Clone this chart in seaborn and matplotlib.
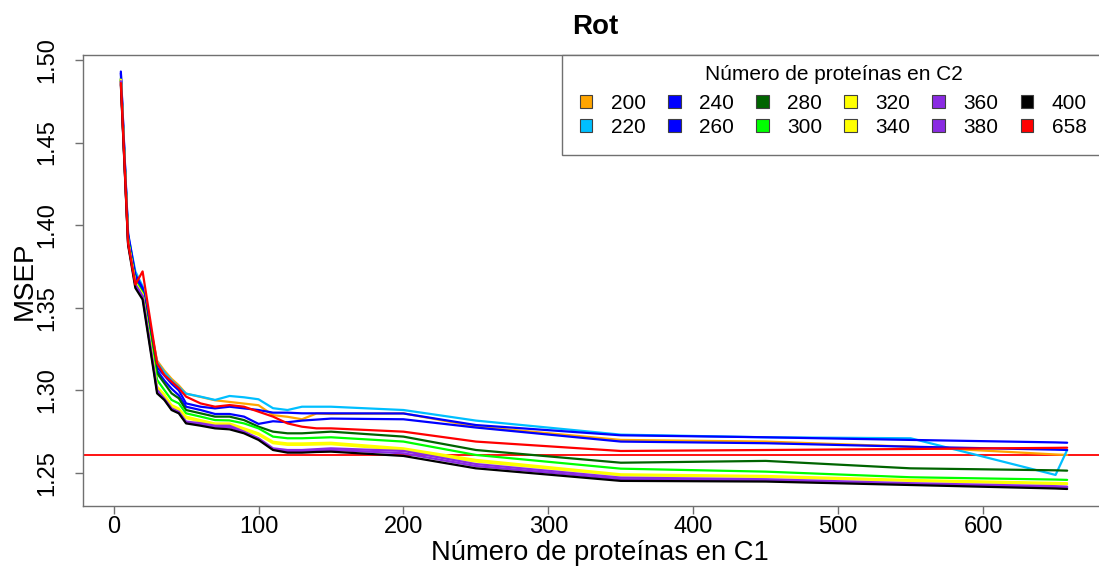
import matplotlib
matplotlib.use("Agg")
import matplotlib.pyplot as plt
from matplotlib.patches import Patch
import numpy as np
import pandas as pd
import seaborn as sns

# Number of proteins in C1 at which MSEP was evaluated
c1_sizes = [5, 10, 15, 20, 30, 35, 40, 45, 50, 60, 70, 80, 90, 100,
            110, 120, 130, 140, 150, 200, 250, 350, 450, 550, 650, 658]

# Number of proteins in C2 (one curve each)
c2_sizes = ["200", "220", "240", "260", "280", "300",
            "320", "340", "360", "380", "400", "658"]

msep_200 = [1.489, 1.392, 1.369, 1.362, 1.3180, 1.3120, 1.3070, 1.3030, 1.2980,
            1.2960, 1.2940, 1.2930, 1.2920, 1.2910, 1.2850, 1.2840, 1.2825, 1.2860,
            1.2857, 1.2861, 1.2781, 1.2700, 1.2690, 1.2659, 1.2612, 1.2609]
msep_220 = [1.489, 1.394, 1.372, 1.363, 1.3170, 1.3110, 1.3060, 1.3020, 1.2980,
            1.2962, 1.2942, 1.2966, 1.2958, 1.2946, 1.2892, 1.2881, 1.2901, 1.2901,
            1.2901, 1.2881, 1.2817, 1.2732, 1.2716, 1.2710, 1.2488, 1.2639]
msep_240 = [1.493, 1.395, 1.370, 1.362, 1.3140, 1.3090, 1.3040, 1.3000, 1.2921,
            1.2901, 1.2891, 1.2901, 1.2891, 1.2881, 1.2865, 1.2865, 1.2861, 1.2861,
            1.2861, 1.2860, 1.2790, 1.2728, 1.2716, 1.2700, 1.2685, 1.2683]
msep_260 = [1.492, 1.393, 1.369, 1.361, 1.3120, 1.3060, 1.3010, 1.2970, 1.2901,
            1.2881, 1.2857, 1.2857, 1.2841, 1.2797, 1.2813, 1.2807, 1.2817, 1.2823,
            1.2829, 1.2825, 1.2775, 1.2690, 1.2680, 1.2659, 1.2641, 1.2639]
msep_280 = [1.488, 1.391, 1.366, 1.359, 1.3104, 1.3043, 1.2982, 1.2952, 1.2881,
            1.2861, 1.2841, 1.2841, 1.2820, 1.2780, 1.2750, 1.2740, 1.2740, 1.2745,
            1.2750, 1.2720, 1.2639, 1.2562, 1.2573, 1.2528, 1.2516, 1.2514]
msep_300 = [1.488, 1.391, 1.366, 1.359, 1.3063, 1.3002, 1.2942, 1.2921, 1.2861,
            1.2841, 1.2820, 1.2818, 1.2800, 1.2770, 1.2720, 1.2710, 1.2710, 1.2713,
            1.2716, 1.2690, 1.2609, 1.2526, 1.2508, 1.2474, 1.2460, 1.2458]
msep_320 = [1.488, 1.390, 1.365, 1.358, 1.3023, 1.2975, 1.2911, 1.2890, 1.2841,
            1.2820, 1.2800, 1.2800, 1.2770, 1.2740, 1.2689, 1.2679, 1.2679, 1.2681,
            1.2683, 1.2649, 1.2579, 1.2492, 1.2482, 1.2458, 1.2440, 1.2438]
msep_340 = [1.488, 1.390, 1.365, 1.358, 1.3015, 1.2965, 1.2900, 1.2880, 1.2832,
            1.2811, 1.2791, 1.2791, 1.2761, 1.2731, 1.2680, 1.2670, 1.2670, 1.2672,
            1.2674, 1.2639, 1.2569, 1.2486, 1.2476, 1.2452, 1.2433, 1.2432]
msep_360 = [1.487, 1.389, 1.364, 1.357, 1.3003, 1.2950, 1.2891, 1.2870, 1.2811,
            1.2801, 1.2786, 1.2786, 1.2750, 1.2710, 1.2649, 1.2639, 1.2639, 1.2644,
            1.2649, 1.2633, 1.2554, 1.2472, 1.2462, 1.2438, 1.2420, 1.2417]
msep_380 = [1.487, 1.389, 1.364, 1.357, 1.2995, 1.2945, 1.2885, 1.2865, 1.2805,
            1.2795, 1.2780, 1.2778, 1.2745, 1.2705, 1.2642, 1.2630, 1.2630, 1.2635,
            1.2640, 1.2619, 1.2542, 1.2462, 1.2455, 1.2432, 1.2414, 1.2412]
msep_400 = [1.485, 1.388, 1.362, 1.355, 1.2982, 1.2942, 1.2881, 1.2861, 1.2800,
            1.2786, 1.2770, 1.2764, 1.2740, 1.2700, 1.2639, 1.2623, 1.2623, 1.2627,
            1.2629, 1.2603, 1.2528, 1.2452, 1.2448, 1.2427, 1.2406, 1.2403]
msep_658 = [1.486, 1.389, 1.364, 1.372, 1.3164, 1.3093, 1.3053, 1.3013, 1.2962,
            1.2921, 1.2901, 1.2911, 1.2901, 1.2871, 1.2841, 1.2800, 1.2780, 1.2770,
            1.2770, 1.2750, 1.2690, 1.2633, 1.2639, 1.2645, 1.2652, 1.2653]

reference_msep = 1.2607

x_ticks = [0, 100, 200, 300, 400, 500, 600]
y_ticks = [1.25, 1.30, 1.35, 1.40, 1.45, 1.50]

series = [msep_200, msep_220, msep_240, msep_260, msep_280, msep_300,
          msep_320, msep_340, msep_360, msep_380, msep_400, msep_658]

line_colors = ["#FFA500", "#00BFFF", "#0000FF", "#0000FF", "#006400", "#00FF00",
               "#FFFF00", "#FFFF00", "#8A2BE2", "#8A2BE2", "#000000", "#FF0000"]
palette = dict(zip(c2_sizes, line_colors))

df = pd.concat(
    [pd.DataFrame({"c1": c1_sizes, "msep": vals, "c2": name})
     for name, vals in zip(c2_sizes, series)],
    ignore_index=True,
)

sns.set_theme(style="white")
plt.rcParams["font.family"] = ["Liberation Sans", "DejaVu Sans"]
plt.rcParams["text.color"] = "black"

W, H = 1099, 566
fig = plt.figure(figsize=(W / 100, H / 100), dpi=100)
ax = fig.add_axes([83 / W, 1 - 506 / H, (1105 - 83) / W, (506 - 55) / H])

sns.lineplot(data=df, x="c1", y="msep", hue="c2", hue_order=c2_sizes,
             palette=palette, sort=False, estimator=None, linewidth=1.6,
             legend=False, ax=ax)
ax.axhline(reference_msep, color="#FF0000", linewidth=1.3, zorder=1)

ax.set_xlim(-21.12, 684.12)
ax.set_ylim(1.2300, 1.5030)
ax.set_xticks(x_ticks)
ax.set_xticklabels([str(t) for t in x_ticks])
ax.set_yticks(y_ticks)
ax.set_yticklabels([f"{t:.2f}" for t in y_ticks])

frame_col = "#707070"
for sp in ax.spines.values():
    sp.set_visible(True)
    sp.set_color(frame_col)
    sp.set_linewidth(1.0)
ax.tick_params(axis="both", direction="out", length=5.5, width=1.0,
               color=frame_col, labelsize=17, labelcolor="black",
               bottom=True, left=True)
ax.tick_params(axis="x", pad=2)
ax.tick_params(axis="y", pad=12, labelrotation=90)
for lab in ax.get_yticklabels():
    lab.set_va("center")

ax.set_xlabel("Número de proteínas en C1", fontsize=19.7, color="black")
ax.xaxis.set_label_coords(0.506, -0.075)
ax.set_ylabel("MSEP", fontsize=20, color="black")
ax.yaxis.label.set_va("center")
ax.yaxis.set_label_coords((25 - 83) / 1022, 0.5)

fig.text(595 / W, 1 - 27 / H, "Rot", fontsize=20, fontweight="bold",
         color="black", ha="center", va="center")

handles = [Patch(facecolor=c, edgecolor="#404040", linewidth=0.8)
           for c in line_colors]
leg = ax.legend(handles, c2_sizes, title="Número de proteínas en C2",
                ncol=6, loc="upper right", bbox_to_anchor=(1.0, 1.0),
                borderaxespad=0.0, frameon=True, fancybox=False,
                fontsize=15, title_fontsize=15, handlelength=0.6,
                handleheight=0.6, handletextpad=0.9, columnspacing=1.05,
                labelspacing=0.24, borderpad=0.5)
# extra side padding around the entry grid, tighter gap under the title
leg._legend_handle_box.pad = 5.5
leg._legend_box.sep = 1.5
leg.get_title().set_color("black")
for t in leg.get_texts():
    t.set_color("black")
frame = leg.get_frame()
frame.set_edgecolor(frame_col)
frame.set_linewidth(1.0)
frame.set_facecolor("white")
frame.set_alpha(1.0)

fig.savefig("out.png", dpi=100)
